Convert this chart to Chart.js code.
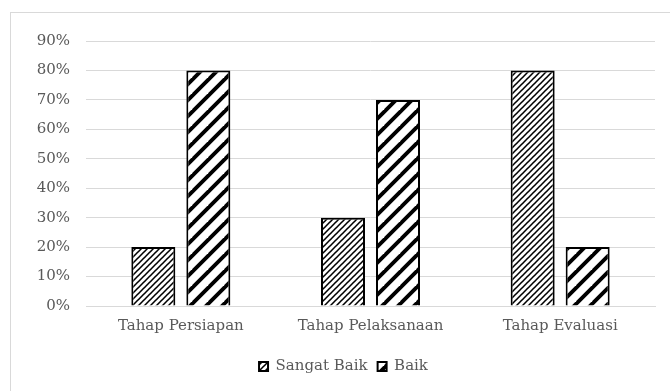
<!DOCTYPE html>
<html>
<head>
<meta charset="utf-8">
<script src="https://cdn.jsdelivr.net/npm/chart.js@4"></script>
<style>
  body { margin: 0; background: #fff; overflow: hidden; }
  #wrap { position: relative; width: 670px; height: 391px; }
  #frame { position: absolute; left: 10px; top: 12px; width: 700px; height: 420px; border: 1px solid #d9d9d9; box-sizing: border-box; }
  canvas { position: absolute; left: 0; top: 0; }
</style>
</head>
<body>
<div id="wrap">
  <div id="frame"></div>
  <canvas id="myChart" width="670" height="391"></canvas>
</div>
<script>
const categories = ["Tahap Persiapan", "Tahap Pelaksanaan", "Tahap Evaluasi"];
const sangatBaik = [20, 30, 80];
const baik = [80, 70, 20];
const seriesNames = ["Sangat Baik", "Baik"];

// hatch fills like the excel patterns, stripes going up to the right
// thick = stripe width measured horizontally
function makePattern(size, thick) {
  const c = document.createElement("canvas");
  c.width = size;
  c.height = size;
  const g = c.getContext("2d");
  g.fillStyle = "#fff";
  g.fillRect(0, 0, size, size);
  g.fillStyle = "#000";
  const t = thick / 2;
  for (let k = -1; k <= 2; k++) {
    const cc = size * k; // band around x + y = cc
    g.beginPath();
    g.moveTo(cc - t + 1, -1);
    g.lineTo(cc + t + 1, -1);
    g.lineTo(cc + t - size - 1, size + 1);
    g.lineTo(cc - t - size - 1, size + 1);
    g.closePath();
    g.fill();
  }
  return g.createPattern(c, "repeat");
}

const fine = makePattern(6, 2.2);
const wide = makePattern(16, 5.5);
const font = "'DejaVu Serif', 'Liberation Serif', serif";

// nudge the legend right, the excel chart area is wider than the picture
const legendShift = {
  id: "legendShift",
  afterLayout(chart) {
    chart.legend.left += 16;
    chart.legend.right += 16;
  },
};

const ctx = document.getElementById("myChart").getContext("2d");
new Chart(ctx, {
  type: "bar",
  data: {
    labels: categories,
    datasets: [
      { label: seriesNames[0], data: sangatBaik, backgroundColor: fine, borderColor: "#000", borderWidth: 2 },
      { label: seriesNames[1], data: baik, backgroundColor: wide, borderColor: "#000", borderWidth: 2 },
    ],
  },
  plugins: [legendShift],
  options: {
    responsive: false,
    animation: false,
    datasets: { bar: { categoryPercentage: 0.58, barPercentage: 0.8 } },
    layout: { padding: { left: 0, right: 15, top: 41, bottom: 7 } },
    plugins: {
      tooltip: { enabled: false },
      legend: {
        position: "bottom",
        labels: {
          color: "#595959",
          font: { family: font, size: 15 },
          boxWidth: 9,
          boxHeight: 9,
          padding: 10,
        },
      },
    },
    scales: {
      x: {
        grid: { display: false, drawTicks: false },
        border: { color: "#d9d9d9", width: 1 },
        ticks: { color: "#595959", font: { family: font, size: 15 }, padding: 11 },
        afterFit: (s) => { s.height = 43; },
      },
      y: {
        min: 0,
        max: 90,
        grid: { color: "#d9d9d9", drawTicks: false },
        border: { display: false },
        ticks: {
          stepSize: 10,
          color: "#595959",
          font: { family: font, size: 15 },
          padding: 16,
          callback: (v) => v + "%",
        },
        afterFit: (s) => { s.width = 86; },
      },
    },
  },
});
</script>
</body>
</html>
